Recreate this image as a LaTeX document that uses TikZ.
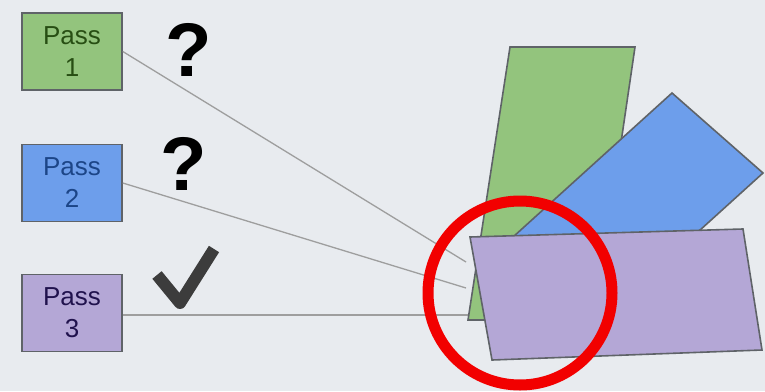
\documentclass[tikz,border=0pt]{standalone}
\usepackage{fontspec}
\setmainfont{Liberation Sans}
\usetikzlibrary{positioning,calc}
\definecolor{slidebg}{HTML}{E8EBEF}
\definecolor{edgegray}{HTML}{5F6368}
\definecolor{linkgray}{HTML}{9E9E9E}
\definecolor{checkgray}{HTML}{3C3C3C}
\definecolor{passgreen}{HTML}{93C47D}
\definecolor{passblue}{HTML}{6D9EEB}
\definecolor{passpurple}{HTML}{B4A7D6}
\definecolor{greentxt}{HTML}{274E13}
\definecolor{bluetxt}{HTML}{1C4587}
\definecolor{purpletxt}{HTML}{20124D}
\definecolor{ringred}{HTML}{F20000}

\begin{document}
\begin{tikzpicture}[
  x=1pt, y=-1pt,
  passbox/.style={draw=edgegray, line width=1.6pt,
                  minimum width=100pt, minimum height=77pt,
                  inner sep=0pt, align=center,
                  font=\fontsize{26}{32}\selectfont},
  signmark/.style={font=\fontsize{76}{76}\selectfont\bfseries, inner sep=0pt},
  link/.style={draw=linkgray, line width=1.3pt},
  sheet/.style={draw=edgegray, line width=1.6pt},
]
% --- Slide background ---
\fill[slidebg] (0,0) rectangle (765,391);
\useasboundingbox (0,0) rectangle (765,391);

% --- Passes ---
\node[passbox, fill=passgreen,  text=greentxt]  (pass1) at (72,51.5)  {Pass\\1};
\node[passbox, fill=passblue,   text=bluetxt]   (pass2) at (72,183)   {Pass\\2};
\node[passbox, fill=passpurple, text=purpletxt] (pass3) at (72,313)   {Pass\\3};

% --- Marks next to each pass ---
\node[signmark] (q1) at (189,50)  {?};
\node[signmark] (q2) at (184,164) {?};
\draw[checkgray, line width=12pt, line join=round]
  (157,275) -- (180,303) -- (214,249);

% --- Links into the stack ---
\coordinate (end1) at (466,262);
\coordinate (end2) at (466,288);
\coordinate (end3) at (472,315);
\draw[link] (pass1.east) -- (end1);
\draw[link] (pass2.east) -- (end2);
\draw[link] (pass3.east |- end3) -- (end3);

% --- Stacked sheets ---
\filldraw[sheet, fill=passgreen]  (510,47) -- (635,47) -- (595,320) -- (468,320) -- cycle;
\filldraw[sheet, fill=passblue]   (672,93) -- (763,173) -- (604,317) -- (513,237) -- cycle;
\filldraw[sheet, fill=passpurple] (470,237) -- (743,229) -- (762,350) -- (492,360) -- cycle;

% --- Highlight ring ---
\draw[ringred, line width=11pt] (520,293) circle (92);
\end{tikzpicture}
\end{document}
